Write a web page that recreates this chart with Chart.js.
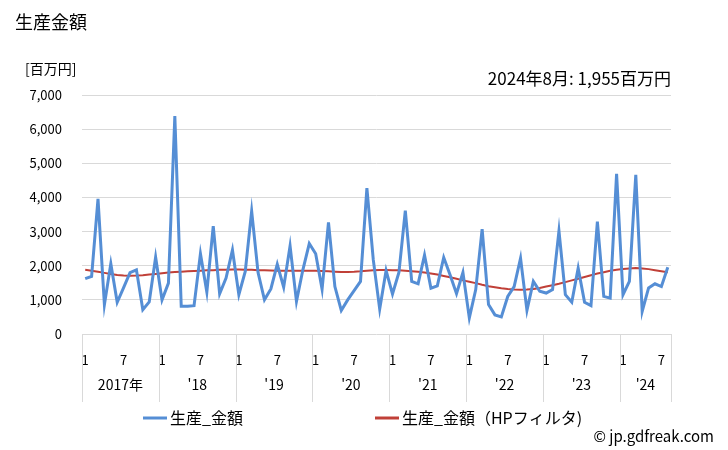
<!DOCTYPE html>
<html lang="ja">
<head>
<meta charset="utf-8">
<script src="https://cdn.jsdelivr.net/npm/chart.js@4"></script>
<style>
  html, body { margin: 0; padding: 0; background: #fff; }
  #wrap { width: 728px; height: 450px; }
</style>
</head>
<body>
<div id="wrap"><canvas id="prodChart" width="728" height="450"></canvas></div>
<script>
const yearLabels = ['2017年', "'18", "'19", "'20", "'21", "'22", "'23", "'24"];
const monthsPerYear = [12, 12, 12, 12, 12, 12, 12, 8];
const tickMonths = [1, 7];

// 生産_金額 (百万円), 2017/1 - 2024/8
const amount = [
    1620, 1685, 3960, 860, 2060, 930, 1360, 1800, 1880, 710, 940, 2250,
    1000, 1490, 6380, 810, 810, 830, 2350, 1230, 3160, 1180, 1640, 2460,
    1150, 1830, 3600, 1800, 1000, 1320, 2040, 1370, 2580, 955, 1880, 2650,
    2350, 1310, 3270, 1390, 690, 1000, 1270, 1540, 4270, 2170, 730, 1860,
    1170, 1800, 3610, 1540, 1470, 2310, 1340, 1410, 2240, 1730, 1180, 1800,
    470, 1300, 3070, 860, 560, 500, 1100, 1390, 2220, 690, 1540, 1250,
    1200, 1300, 3020, 1150, 930, 1930, 930, 830, 3290, 1100, 1050, 4690,
    1150, 1540, 4660, 660, 1350, 1470, 1390, 1955
];

// 生産_金額（HPフィルタ)
const amountHP = [
    1880, 1850, 1820, 1790, 1760, 1730, 1710, 1705, 1710, 1720, 1740, 1760,
    1780, 1800, 1815, 1825, 1835, 1845, 1855, 1865, 1870, 1880, 1885, 1890,
    1890, 1885, 1880, 1870, 1865, 1860, 1855, 1855, 1855, 1855, 1855, 1855,
    1850, 1845, 1835, 1825, 1815, 1815, 1820, 1835, 1855, 1870, 1875, 1875,
    1870, 1865, 1855, 1840, 1820, 1800, 1770, 1740, 1700, 1660, 1620, 1570,
    1530, 1490, 1440, 1400, 1370, 1340, 1315, 1300, 1295, 1300, 1320, 1350,
    1390, 1430, 1470, 1520, 1570, 1620, 1670, 1720, 1770, 1810, 1850, 1880,
    1905, 1920, 1930, 1920, 1900, 1870, 1840, 1810
];

const yTicks = [0, 1000, 2000, 3000, 4000, 5000, 6000, 7000];
const seriesNames = ['生産_金額', '生産_金額（HPフィルタ)'];
const latestNote = '2024年8月: 1,955百万円';

const FONT = "'Noto Sans CJK JP', 'Noto Sans', sans-serif";

const monthLabels = [];
monthsPerYear.forEach(n => {
    for (let m = 1; m <= n; m++) monthLabels.push(m);
});

// texts, year row, separators and legend drawn around the plot
const decorPlugin = {
    id: 'decor',
    afterDraw(chart) {
        const ctx = chart.ctx;
        const x = chart.scales.x;
        const area = chart.chartArea;
        ctx.save();

        ctx.fillStyle = '#000';
        ctx.textBaseline = 'middle';
        ctx.font = '18px ' + FONT;
        ctx.textAlign = 'left';
        ctx.fillText('生産金額', 15, 22);
        ctx.font = '14px ' + FONT;
        ctx.fillText('[百万円]', 25, 69);
        ctx.font = '17px ' + FONT;
        ctx.textAlign = 'right';
        ctx.fillText(latestNote, 671, 79);

        // year separators + labels
        const half = (x.getPixelForValue(1) - x.getPixelForValue(0)) / 2;
        ctx.strokeStyle = '#d9d9d9';
        ctx.lineWidth = 1;
        ctx.font = '14px ' + FONT;
        ctx.textAlign = 'center';
        let start = 0;
        monthsPerYear.forEach((n, k) => {
            const left = x.getPixelForValue(start) - half;
            const right = x.getPixelForValue(start + n - 1) + half;
            ctx.beginPath();
            ctx.moveTo(Math.round(left) + 0.5, area.bottom);
            ctx.lineTo(Math.round(left) + 0.5, 402);
            ctx.stroke();
            if (k === monthsPerYear.length - 1) {
                ctx.beginPath();
                ctx.moveTo(Math.round(right) + 0.5, area.bottom);
                ctx.lineTo(Math.round(right) + 0.5, 402);
                ctx.stroke();
            }
            ctx.fillStyle = '#000';
            ctx.fillText(yearLabels[k], (left + right) / 2, 385);
            start += n;
        });

        // legend
        const items = [{ x: 143 }, { x: 375 }];
        ctx.textAlign = 'left';
        ctx.font = '16px ' + FONT;
        items.forEach((it, i) => {
            const ds = chart.data.datasets[i];
            ctx.strokeStyle = ds.borderColor;
            ctx.lineWidth = 3;
            ctx.beginPath();
            ctx.moveTo(it.x, 418);
            ctx.lineTo(it.x + 24, 418);
            ctx.stroke();
            ctx.fillStyle = '#000';
            ctx.fillText(ds.label, it.x + 27, 418);
        });

        ctx.font = '15px ' + FONT;
        ctx.textAlign = 'right';
        ctx.fillText('© jp.gdfreak.com', 714, 436);
        ctx.restore();
    }
};

const ctx = document.getElementById('prodChart').getContext('2d');
new Chart(ctx, {
    type: 'line',
    data: {
        labels: monthLabels,
        datasets: [{
            label: seriesNames[0],
            data: amount,
            borderColor: 'rgb(85, 142, 213)',
            backgroundColor: 'rgb(85, 142, 213)',
            borderWidth: 3,
            pointRadius: 0,
            tension: 0
        }, {
            label: seriesNames[1],
            data: amountHP,
            borderColor: 'rgb(192, 64, 56)',
            backgroundColor: 'rgb(192, 64, 56)',
            borderWidth: 2,
            pointRadius: 0,
            tension: 0
        }]
    },
    options: {
        responsive: false,
        animation: false,
        layout: { padding: { left: 0, top: 95, right: 57, bottom: 0 } },
        plugins: {
            legend: { display: false },
            tooltip: { enabled: false }
        },
        scales: {
            x: {
                offset: true,
                grid: { display: false },
                border: { display: false },
                ticks: {
                    autoSkip: false,
                    maxRotation: 0,
                    padding: 10,
                    color: '#000',
                    font: { family: FONT, size: 13 },
                    callback: function (value) {
                        const m = monthLabels[value];
                        return tickMonths.includes(m) ? String(m) : '';
                    }
                },
                afterFit: function (scale) { scale.height = 116; }
            },
            y: {
                min: yTicks[0],
                max: yTicks[yTicks.length - 1],
                afterBuildTicks: function (scale) {
                    scale.ticks = yTicks.map(v => ({ value: v }));
                },
                grid: { color: '#d9d9d9', drawTicks: false },
                border: { display: false },
                ticks: {
                    padding: 20,
                    color: '#000',
                    font: { family: FONT, size: 13 },
                    callback: v => v.toLocaleString('en-US')
                },
                afterFit: function (scale) { scale.width = 82; }
            }
        }
    },
    plugins: [decorPlugin]
});
</script>
</body>
</html>
